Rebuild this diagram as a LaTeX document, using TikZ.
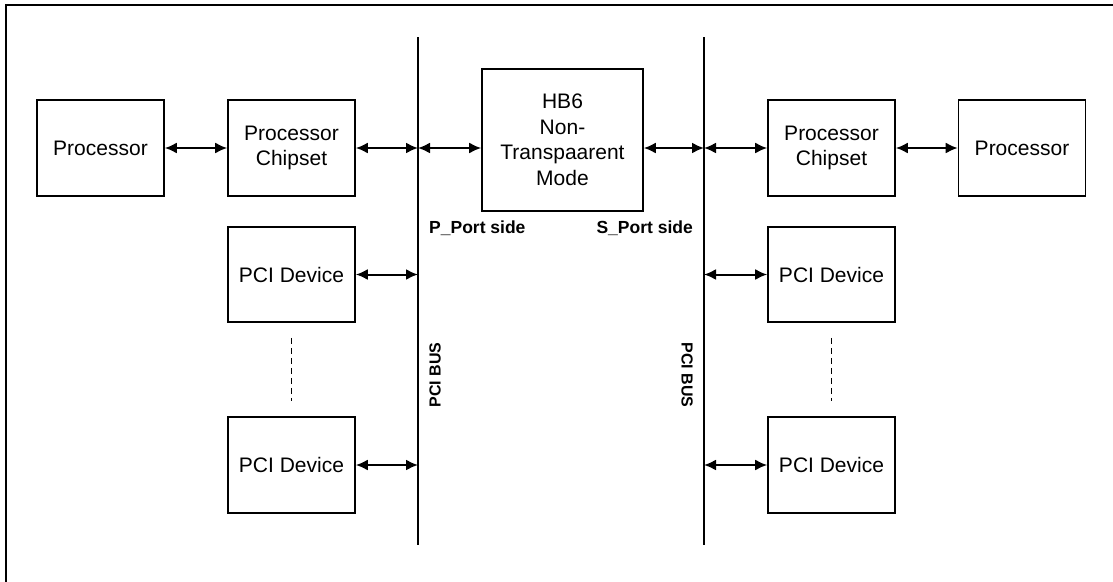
\documentclass[tikz,border=0pt]{standalone}
\usepackage{fontspec}
\setmainfont{Liberation Sans}
\usetikzlibrary{arrows.meta}
\begin{document}
\begin{tikzpicture}[x=1pt,y=-1pt,
  blk/.style={draw,line width=1.6pt,minimum width=127pt,minimum height=96pt,inner sep=0pt,align=center,font=\fontsize{21}{25.5}\selectfont},
  conn/.style={line width=2pt,{Latex[length=12pt,width=11pt]}-{Latex[length=12pt,width=11pt]}},
  bus/.style={line width=1.6pt},
  lbl/.style={font=\bfseries\fontsize{17.5}{20}\selectfont,inner sep=0pt},
  buslbl/.style={font=\bfseries\fontsize{16}{18}\selectfont,inner sep=0pt}]
\useasboundingbox (0,0) rectangle (1113,581);
\draw[line width=2pt] (5.5,5) rectangle (1125,595);
% buses
\coordinate (bLt) at (418,37); \coordinate (bLb) at (418,545);
\coordinate (bRt) at (704,37); \coordinate (bRb) at (704,545);
\draw[bus] (bLt) -- (bLb);
\draw[bus] (bRt) -- (bRb);
% blocks
\node[blk] (procL) at (100.5,148) {Processor};
\node[blk] (chipL) at (291.5,148) {Processor\\Chipset};
\node[blk,minimum width=161pt,minimum height=142pt] (hb6) at (562.5,140) {HB6\\Non-\\Transpaarent\\Mode};
\node[blk] (chipR) at (831.5,148) {Processor\\Chipset};
\node[blk] (procR) at (1022,148) {Processor};
\node[blk,minimum height=95pt] (pciL1) at (291.5,274.5) {PCI Device};
\node[blk,minimum height=96pt] (pciL2) at (291.5,465) {PCI Device};
\node[blk,minimum height=95pt] (pciR1) at (831.5,274.5) {PCI Device};
\node[blk,minimum height=96pt] (pciR2) at (831.5,465) {PCI Device};
% connectors
\draw[conn] (procL) -- (chipL);
\draw[conn] (chipL.east) -- (chipL.east -| bLt);
\draw[conn] (chipL.east -| bLt) -- (hb6.west |- chipL.east);
\draw[conn] (hb6.east |- chipR.west) -- (chipR.west -| bRt);
\draw[conn] (chipR.west -| bRt) -- (chipR.west);
\draw[conn] (chipR) -- (procR);
\draw[conn] (pciL1.east) -- (pciL1.east -| bLt);
\draw[conn] (pciL2.east) -- (pciL2.east -| bLt);
\draw[conn] (pciR1.west -| bRt) -- (pciR1.west);
\draw[conn] (pciR2.west -| bRt) -- (pciR2.west);
% dashed
\draw[line width=1pt,dash pattern=on 6pt off 4pt] ([yshift=-15pt]pciL1.south) -- ([yshift=15pt]pciL2.north);
\draw[line width=1pt,dash pattern=on 6pt off 4pt] ([yshift=-15pt]pciR1.south) -- ([yshift=15pt]pciR2.north);
% labels
\node[lbl,anchor=west] (pport) at (429,228) {P\_Port side};
\node[lbl,anchor=east] (sport) at (693,228) {S\_Port side};
\node[buslbl,rotate=90] (busLl) at (435,375) {PCI BUS};
\node[buslbl,rotate=-90] (busRl) at (687,375) {PCI BUS};
\end{tikzpicture}
\end{document}
